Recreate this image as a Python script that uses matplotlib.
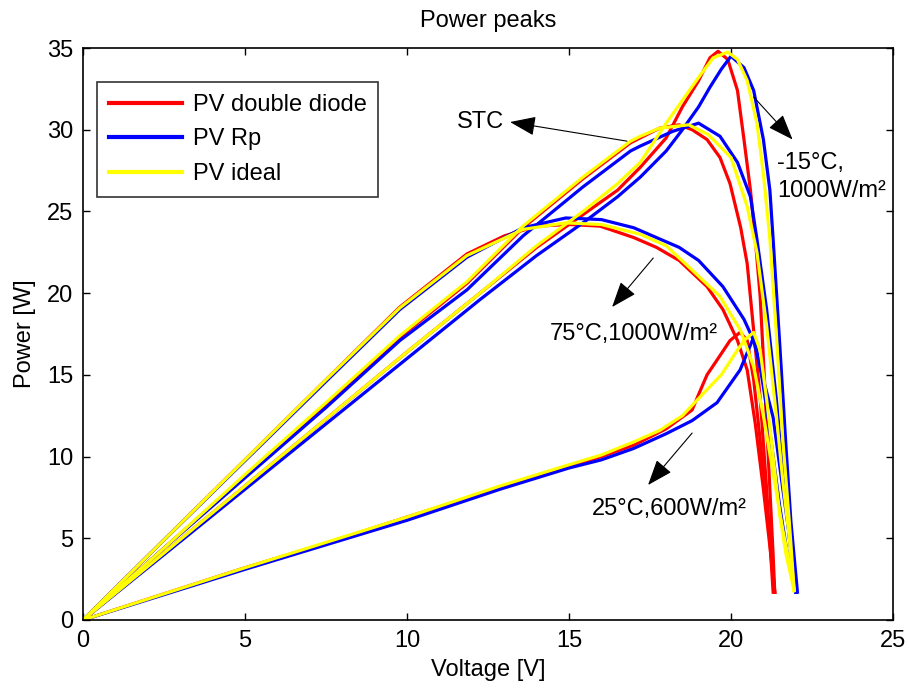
import matplotlib
matplotlib.use("Agg")
import matplotlib.pyplot as plt

plt.rcParams['font.family'] = ['Liberation Sans', 'DejaVu Sans']

# ---- P-V curves: voltage [V] and power [W] for each model and condition ----
# -15 degC, 1000 W/m2
v_m15_dd = [0, 2.5, 5, 7.5, 10, 12.25, 14, 15.5, 16.5, 17.2, 18.0, 18.5, 19.0, 19.35, 19.6, 19.9, 20.2, 20.4, 20.6, 20.75, 20.9, 21.0, 21.1, 21.2, 21.3, 21.35]
p_m15_dd = [0, 4.1, 8.2, 12.3, 16.4, 20.0, 22.8, 24.9, 26.3, 27.7, 29.5, 31.4, 33.0, 34.4, 34.8, 34.3, 32.4, 29.4, 26.3, 23.3, 19.8, 16.0, 12.0, 8.0, 4.0, 1.7]
v_m15_rp = [0, 2.5, 5, 7.5, 10, 12.25, 14, 15.5, 16.5, 17.2, 18.0, 18.5, 19.0, 19.35, 19.7, 20.0, 20.4, 20.7, 21.0, 21.2, 21.3, 21.5, 21.7, 21.85, 22.05]
p_m15_rp = [0, 4.0, 8.0, 12.0, 16.0, 19.6, 22.3, 24.4, 25.9, 27.1, 28.7, 30.0, 31.4, 32.6, 33.7, 34.5, 33.8, 32.4, 29.4, 26.3, 23.3, 17.0, 10.5, 6.0, 1.7]
v_m15_id = [0, 2.5, 5, 7.5, 10, 12.25, 14, 15.5, 16.5, 17.2, 18.0, 18.5, 19.0, 19.45, 19.9, 20.2, 20.5, 20.8, 21.0, 21.2, 21.4, 21.6, 21.8, 21.95]
p_m15_id = [0, 4.1, 8.2, 12.3, 16.4, 20.0, 22.9, 25.1, 26.7, 28.0, 30.4, 31.8, 33.2, 34.4, 34.75, 34.3, 33.0, 30.4, 27.3, 23.3, 17.5, 11.0, 6.0, 1.8]

# STC: 25 degC, 1000 W/m2
v_stc_dd = [0, 2.5, 5, 7.5, 9.78, 11.85, 13.58, 15.43, 16.9, 17.8, 18.4, 18.8, 19.26, 19.66, 19.97, 20.3, 20.5, 20.7, 20.9, 21.1, 21.3]
p_stc_dd = [0, 4.4, 8.8, 13.2, 17.3, 20.6, 24.0, 27.0, 29.2, 30.1, 30.3, 30.0, 29.4, 28.3, 26.7, 24.0, 21.8, 17.7, 13.6, 8.0, 1.7]
v_stc_rp = [0, 2.5, 5, 7.5, 9.78, 11.85, 13.58, 15.43, 16.9, 17.2, 18.2, 19.0, 19.66, 20.2, 20.6, 20.8, 21.1, 21.4, 21.6, 21.8, 22.0]
p_stc_rp = [0, 4.4, 8.7, 13.0, 17.1, 20.2, 23.5, 26.5, 28.7, 29.0, 29.9, 30.4, 29.6, 28.0, 25.9, 23.3, 19.0, 13.5, 9.0, 5.0, 1.7]
v_stc_id = [0, 2.5, 5, 7.5, 9.78, 11.85, 13.58, 15.43, 16.9, 17.2, 17.8, 18.7, 19.3, 20.0, 20.5, 20.8, 21.1, 21.4, 21.6, 21.8, 21.95]
p_stc_id = [0, 4.4, 8.9, 13.3, 17.4, 20.7, 24.1, 27.1, 29.3, 29.6, 30.1, 30.3, 29.7, 28.3, 25.3, 22.5, 18.0, 12.5, 8.5, 5.0, 1.8]

# 75 degC, 1000 W/m2
v_75_dd = [0, 2.5, 5, 7.5, 9.78, 11.85, 13.0, 14.0, 15.0, 15.96, 17.0, 17.7, 18.4, 19.26, 19.75, 20.2, 20.5, 20.75, 21.0, 21.2, 21.35]
p_75_dd = [0, 4.9, 9.8, 14.7, 19.15, 22.4, 23.5, 24.1, 24.2, 24.1, 23.4, 22.8, 22.0, 20.4, 19.0, 17.1, 15.3, 12.0, 8.0, 4.5, 1.7]
v_75_rp = [0, 2.5, 5, 7.5, 9.78, 11.85, 13.58, 14.9, 16.0, 17.0, 17.7, 18.4, 19.0, 19.75, 20.4, 20.7, 21.0, 21.3, 21.6, 21.85, 22.0]
p_75_rp = [0, 4.9, 9.75, 14.6, 19.0, 22.2, 24.0, 24.6, 24.5, 24.0, 23.4, 22.8, 22.0, 20.4, 18.4, 17.1, 14.7, 12.4, 8.0, 4.5, 1.7]
v_75_id = [0, 2.5, 5, 7.5, 9.78, 11.85, 13.58, 14.9, 16.0, 17.2, 18.0, 18.7, 19.66, 20.3, 20.7, 21.0, 21.3, 21.6, 21.8, 21.95]
p_75_id = [0, 4.9, 9.8, 14.7, 19.1, 22.3, 23.9, 24.3, 24.2, 23.6, 22.9, 21.6, 19.8, 17.7, 15.5, 12.5, 9.0, 5.5, 3.5, 1.8]

# 25 degC, 600 W/m2
v_600_dd = [0, 2.5, 5, 7.5, 10, 12.87, 15.0, 16.0, 17.0, 18.0, 18.8, 19.0, 19.26, 19.6, 19.97, 20.28, 20.5, 20.7, 20.9, 21.1, 21.25, 21.35]
p_600_dd = [0, 1.6, 3.2, 4.7, 6.3, 8.1, 9.4, 10.0, 10.7, 11.7, 12.85, 13.8, 15.0, 16.0, 17.1, 17.6, 17.1, 14.7, 11.0, 7.0, 4.0, 1.7]
v_600_rp = [0, 2.5, 5, 7.5, 10, 12.87, 15.0, 16.0, 17.0, 18.0, 18.8, 19.57, 20.28, 20.7, 20.9, 21.1, 21.3, 21.5, 21.7, 21.85, 22.0]
p_600_rp = [0, 1.55, 3.1, 4.6, 6.1, 8.0, 9.3, 9.8, 10.5, 11.4, 12.2, 13.3, 15.3, 17.3, 15.5, 13.0, 10.0, 7.0, 4.5, 3.0, 1.7]
v_600_id = [0, 2.5, 5, 7.5, 10, 12.87, 15.0, 16.0, 17.0, 17.8, 18.5, 19.26, 19.7, 20.06, 20.4, 20.7, 20.9, 21.1, 21.3, 21.5, 21.7, 21.95]
p_600_id = [0, 1.6, 3.2, 4.75, 6.3, 8.2, 9.5, 10.1, 10.9, 11.6, 12.5, 14.1, 15.0, 16.1, 17.1, 17.6, 16.5, 13.5, 10.0, 6.5, 4.0, 1.8]

model_names = ['PV double diode', 'PV Rp', 'PV ideal']
model_colors = ['#ff0000', '#0000ff', '#ffff00']

groups = [
    [(v_m15_dd, p_m15_dd), (v_m15_rp, p_m15_rp), (v_m15_id, p_m15_id)],
    [(v_stc_dd, p_stc_dd), (v_stc_rp, p_stc_rp), (v_stc_id, p_stc_id)],
    [(v_75_dd, p_75_dd), (v_75_rp, p_75_rp), (v_75_id, p_75_id)],
    [(v_600_dd, p_600_dd), (v_600_rp, p_600_rp), (v_600_id, p_600_id)],
]

x_ticks = [0, 5, 10, 15, 20, 25]
y_ticks = [0, 5, 10, 15, 20, 25, 30, 35]

FS = 17

fig = plt.figure(figsize=(9.09, 6.93), dpi=100)
ax = fig.add_axes([83 / 909, 73 / 693, 810 / 909, 572 / 693])

for gi, grp in enumerate(groups):
    for mi, (v, p) in enumerate(grp):
        ax.plot(v, p, color=model_colors[mi], lw=2.3,
                label=model_names[mi] if gi == 0 else None, zorder=2 + mi * 0.1)

ax.set_xlim(0, 25)
ax.set_ylim(0, 35)
ax.set_xticks(x_ticks)
ax.set_yticks(y_ticks)
ax.tick_params(direction='in', length=5, width=1, top=True, right=True,
               labelsize=FS, pad=7)
for s in ax.spines.values():
    s.set_linewidth(1.2)

ax.set_xlabel('Voltage [V]', fontsize=FS, labelpad=5)
ax.set_ylabel('Power [W]', fontsize=FS, labelpad=8)
ax.set_title('Power peaks', fontsize=FS, pad=15)

leg = ax.legend(loc='upper left', bbox_to_anchor=(14 / 810, 1 - 34 / 572),
                borderaxespad=0, fontsize=FS, frameon=True, fancybox=False,
                handlelength=3.1, handletextpad=0.45, labelspacing=0.53,
                borderpad=0.5)
leg.get_frame().set_edgecolor('black')
leg.get_frame().set_linewidth(1.2)
for ln in leg.get_lines():
    ln.set_linewidth(3)

arrow_kw = dict(arrowstyle='-|>,head_length=0.8,head_width=0.3',
                mutation_scale=20, color='black', lw=0.8, shrinkA=0, shrinkB=0)

ax.annotate('', xy=(13.18, 30.47), xytext=(16.79, 29.3), arrowprops=arrow_kw)
ax.text(13.0, 30.47, 'STC', fontsize=FS, ha='right', va='center')

ax.annotate('', xy=(21.9, 29.4), xytext=(20.7, 32.0), arrowprops=arrow_kw)
ax.text(21.42, 27.1, '-15°C,\n1000W/m²', fontsize=FS, ha='left', va='center',
        linespacing=1.35)

ax.annotate('', xy=(16.33, 19.15), xytext=(17.6, 22.15), arrowprops=arrow_kw)
ax.text(17.0, 17.5, '75°C,1000W/m²', fontsize=FS, ha='center', va='center')

ax.annotate('', xy=(17.44, 8.26), xytext=(18.8, 11.44), arrowprops=arrow_kw)
ax.text(18.1, 6.8, '25°C,600W/m²', fontsize=FS, ha='center', va='center')

fig.savefig('out.png', dpi=100, facecolor='white')
